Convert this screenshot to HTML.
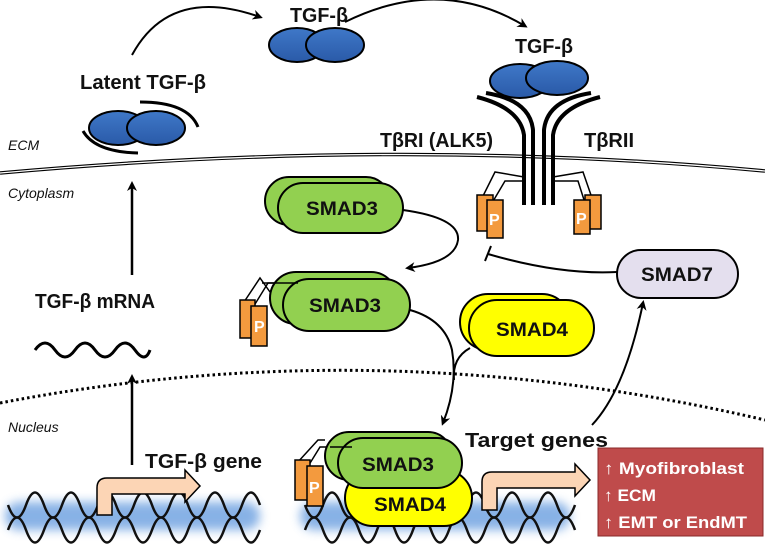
<!DOCTYPE html>
<html><head><meta charset="utf-8"><style>
html,body{margin:0;padding:0;background:#fff}
svg{display:block}
text{font-family:"Liberation Sans",sans-serif}
.b{font-weight:bold;font-size:20px;fill:#111}
.s{font-weight:bold;font-size:19px;fill:#111;text-anchor:middle}
.i{font-style:italic;font-size:14px;fill:#111}
</style></head><body>
<svg width="765" height="552" viewBox="0 0 765 552" xmlns="http://www.w3.org/2000/svg">
<defs>
<marker id="ah" markerWidth="10" markerHeight="10" refX="7" refY="5" orient="auto" markerUnits="userSpaceOnUse"><path d="M0,0 L10,5 L0,10 L3,5 z" fill="#000"/></marker>
<linearGradient id="bl" x1="0" y1="0" x2="0" y2="1"><stop offset="0" stop-color="#3f78c8"/><stop offset="1" stop-color="#2a5aa8"/></linearGradient>
<filter id="glow" x="-10%" y="-50%" width="120%" height="200%"><feGaussianBlur stdDeviation="5"/></filter>
</defs>
<!-- membrane -->
<path d="M0,173 Q400,137 765,171" fill="none" stroke="#000" stroke-width="3.5"/>
<path d="M0,173 Q400,137 765,171" fill="none" stroke="#fff" stroke-width="1.3"/>
<!-- nuclear envelope -->
<path d="M0,403 Q380,330 765,420" fill="none" stroke="#000" stroke-width="3" stroke-dasharray="2.5,3"/>
<text class="i" x="8" y="150">ECM</text>
<text class="i" x="8" y="198">Cytoplasm</text>
<text class="i" x="8" y="432">Nucleus</text>
<!-- latent TGF-b -->
<text class="b" x="80" y="89" textLength="126" lengthAdjust="spacingAndGlyphs">Latent TGF-β</text>
<path d="M83,131 Q95,152 138,153" fill="none" stroke="#000" stroke-width="3"/>
<path d="M140,102 Q188,102 198,127" fill="none" stroke="#000" stroke-width="3"/>
<ellipse cx="118" cy="128" rx="29" ry="17" fill="url(#bl)" stroke="#000" stroke-width="2"/>
<ellipse cx="156" cy="128" rx="29" ry="17" fill="url(#bl)" stroke="#000" stroke-width="2"/>
<!-- top TGF-b -->
<path d="M132,55 Q170,-15 260,17" fill="none" stroke="#000" stroke-width="2" marker-end="url(#ah)"/>
<text class="b" x="290" y="22" textLength="58" lengthAdjust="spacingAndGlyphs">TGF-β</text>
<ellipse cx="297" cy="45" rx="28" ry="17" fill="url(#bl)" stroke="#000" stroke-width="2"/>
<ellipse cx="335" cy="45" rx="29" ry="17" fill="url(#bl)" stroke="#000" stroke-width="2"/>
<path d="M345,22 Q440,-25 525,26" fill="none" stroke="#000" stroke-width="2" marker-end="url(#ah)"/>
<!-- receptor -->
<text class="b" x="515" y="53" textLength="58" lengthAdjust="spacingAndGlyphs">TGF-β</text>
<path d="M477,97 Q520,108 524,135 L524,205 M486,93 Q530,100 533,130 L533,205" fill="none" stroke="#000" stroke-width="4"/>
<path d="M600,97 Q557,108 553,135 L553,205 M591,93 Q547,100 544,130 L544,205" fill="none" stroke="#000" stroke-width="4"/>
<ellipse cx="520" cy="81" rx="30" ry="17" fill="url(#bl)" stroke="#000" stroke-width="2"/>
<ellipse cx="557" cy="78" rx="31" ry="17" fill="url(#bl)" stroke="#000" stroke-width="2"/>
<text class="b" x="380" y="147" textLength="113" lengthAdjust="spacingAndGlyphs">TβRI (ALK5)</text>
<text class="b" x="584" y="147" textLength="50" lengthAdjust="spacingAndGlyphs">TβRII</text>
<path d="M524,177 L495,172 L482,198 M524,181 L505,181 L492,203" fill="none" stroke="#000" stroke-width="1.5"/>
<path d="M553,177 L583,172 L592,198 M553,181 L578,181 L585,203" fill="none" stroke="#000" stroke-width="1.5"/>
<rect x="477" y="195" width="16" height="36" fill="#f39a3e" stroke="#000" stroke-width="1.5"/>
<rect x="487" y="200" width="16" height="38" fill="#f39a3e" stroke="#000" stroke-width="1.5"/>
<text x="489" y="225" font-weight="bold" font-size="16" fill="#fff">P</text>
<rect x="585" y="195" width="16" height="34" fill="#f39a3e" stroke="#000" stroke-width="1.5"/>
<rect x="574" y="200" width="16" height="34" fill="#f39a3e" stroke="#000" stroke-width="1.5"/>
<text x="576" y="224" font-weight="bold" font-size="16" fill="#fff">P</text>
<!-- SMAD3 top -->
<rect x="265" y="177" width="125" height="48" rx="24" fill="#92d050" stroke="#000" stroke-width="2"/>
<rect x="278" y="183" width="125" height="50" rx="25" fill="#92d050" stroke="#000" stroke-width="2"/>
<text class="s" x="342" y="215" textLength="72" lengthAdjust="spacingAndGlyphs">SMAD3</text>
<path d="M403,210 Q460,218 458,240 Q455,262 408,268" fill="none" stroke="#000" stroke-width="2" marker-end="url(#ah)"/>
<!-- SMAD7 -->
<rect x="617" y="250" width="121" height="48" rx="24" fill="#e4dfee" stroke="#000" stroke-width="2"/>
<text class="s" x="677" y="281" textLength="72" lengthAdjust="spacingAndGlyphs">SMAD7</text>
<path d="M617,272 Q560,275 488,254" fill="none" stroke="#000" stroke-width="2"/>
<path d="M491,246 L485,261" stroke="#000" stroke-width="2"/>
<!-- SMAD3 mid -->
<path d="M270,292 L260,278 L242,305 M283,283 L268,283 L252,309" fill="none" stroke="#000" stroke-width="1.5"/>
<rect x="270" y="272" width="127" height="52" rx="26" fill="#92d050" stroke="#000" stroke-width="2"/>
<rect x="283" y="279" width="127" height="52" rx="26" fill="#92d050" stroke="#000" stroke-width="2"/>
<path d="M262,283 L298,283" stroke="#000" stroke-width="1.5"/>
<text class="s" x="345" y="312" textLength="72" lengthAdjust="spacingAndGlyphs">SMAD3</text>
<rect x="240" y="300" width="15" height="38" fill="#f39a3e" stroke="#000" stroke-width="1.5"/>
<rect x="251" y="306" width="16" height="40" fill="#f39a3e" stroke="#000" stroke-width="1.5"/>
<text x="254" y="332" font-weight="bold" font-size="16" fill="#fff">P</text>
<!-- SMAD4 mid -->
<rect x="460" y="294" width="110" height="56" rx="28" fill="#ffff00" stroke="#000" stroke-width="2"/>
<rect x="469" y="300" width="125" height="56" rx="28" fill="#ffff00" stroke="#000" stroke-width="2"/>
<text class="s" x="532" y="336" textLength="72" lengthAdjust="spacingAndGlyphs">SMAD4</text>
<path d="M410,310 Q445,320 452,350 Q458,385 443,423" fill="none" stroke="#000" stroke-width="2" marker-end="url(#ah)"/>
<path d="M470,348 Q452,358 454,380" fill="none" stroke="#000" stroke-width="2"/>
<path d="M592,425 Q625,390 643,303" fill="none" stroke="#000" stroke-width="2" marker-end="url(#ah)"/>
<!-- mRNA -->
<text class="b" x="35" y="308" textLength="120" lengthAdjust="spacingAndGlyphs">TGF-β mRNA</text>
<path d="M35,350 q10,-14 20,0 t20,0 t20,0 t20,0 t20,0 t15,0" fill="none" stroke="#000" stroke-width="3"/>
<path d="M132,275 L132,184" stroke="#000" stroke-width="2.5" marker-end="url(#ah)"/>
<path d="M132,465 L132,377" stroke="#000" stroke-width="2.5" marker-end="url(#ah)"/>
<text class="b" x="145" y="468" textLength="117" lengthAdjust="spacingAndGlyphs">TGF-β gene</text>
<!-- DNA -->
<g filter="url(#glow)" opacity="0.8"><rect x="5" y="502" width="255" height="28" rx="14" fill="#6b9fe0"/><rect x="300" y="502" width="270" height="28" rx="14" fill="#6b9fe0"/></g>
<path d="M8,505 q9,25 18,0 t18,0 t18,0 t18,0 t18,0 t18,0 t18,0 t18,0 t18,0 t18,0 t18,0 t18,0 t18,0 t18,0" fill="none" stroke="#111" stroke-width="2.5"/>
<path d="M8,530 q9,-25 18,0 t18,0 t18,0 t18,0 t18,0 t18,0 t18,0 t18,0 t18,0 t18,0 t18,0 t18,0 t18,0 t18,0" fill="none" stroke="#111" stroke-width="2.5"/>
<path d="M305,505 q9,25 18,0 t18,0 t18,0 t18,0 t18,0 t18,0 t18,0 t18,0 t18,0 t18,0 t18,0 t18,0 t18,0 t18,0 t18,0" fill="none" stroke="#111" stroke-width="2.5"/>
<path d="M305,530 q9,-25 18,0 t18,0 t18,0 t18,0 t18,0 t18,0 t18,0 t18,0 t18,0 t18,0 t18,0 t18,0 t18,0 t18,0 t18,0" fill="none" stroke="#111" stroke-width="2.5"/>
<!-- bent arrows -->
<path d="M97,515 L97,488 Q97,478 107,478 L185,478 L185,470 L200,486 L185,502 L185,494 L112,494 L112,515 Z" fill="#fcd5b5" stroke="#000" stroke-width="1.5"/>
<path d="M482,510 L482,482 Q482,472 492,472 L575,472 L575,464 L590,480 L575,496 L575,488 L497,488 L497,510 Z" fill="#fcd5b5" stroke="#000" stroke-width="1.5"/>
<!-- nucleus complex -->
<rect x="345" y="470" width="127" height="56" rx="28" fill="#ffff00" stroke="#000" stroke-width="2"/>
<text class="s" x="410" y="511" textLength="72" lengthAdjust="spacingAndGlyphs">SMAD4</text>
<path d="M325,440 L318,440 L297,463 M335,447 L320,447 L307,468" fill="none" stroke="#000" stroke-width="1.5"/>
<rect x="325" y="432" width="127" height="48" rx="24" fill="#92d050" stroke="#000" stroke-width="2"/>
<rect x="338" y="438" width="124" height="50" rx="25" fill="#92d050" stroke="#000" stroke-width="2"/>
<path d="M330,447 L352,447" stroke="#000" stroke-width="1.5"/>
<text class="s" x="398" y="471" textLength="72" lengthAdjust="spacingAndGlyphs">SMAD3</text>
<rect x="295" y="460" width="15" height="40" fill="#f39a3e" stroke="#000" stroke-width="1.5"/>
<rect x="307" y="466" width="16" height="40" fill="#f39a3e" stroke="#000" stroke-width="1.5"/>
<text x="309" y="493" font-weight="bold" font-size="16" fill="#fff">P</text>
<text class="b" x="465" y="447" textLength="143" lengthAdjust="spacingAndGlyphs">Target genes</text>
<!-- red box -->
<rect x="598" y="448" width="165" height="88" fill="#bf4b4b" stroke="#8a2a2a" stroke-width="1"/>
<text x="604" y="474" font-weight="bold" font-size="17" fill="#fff" textLength="140" lengthAdjust="spacingAndGlyphs">↑ Myofibroblast</text>
<text x="604" y="501" font-weight="bold" font-size="17" fill="#fff" textLength="52" lengthAdjust="spacingAndGlyphs">↑ ECM</text>
<text x="604" y="528" font-weight="bold" font-size="17" fill="#fff" textLength="143" lengthAdjust="spacingAndGlyphs">↑ EMT or EndMT</text>
</svg>
</body></html>
